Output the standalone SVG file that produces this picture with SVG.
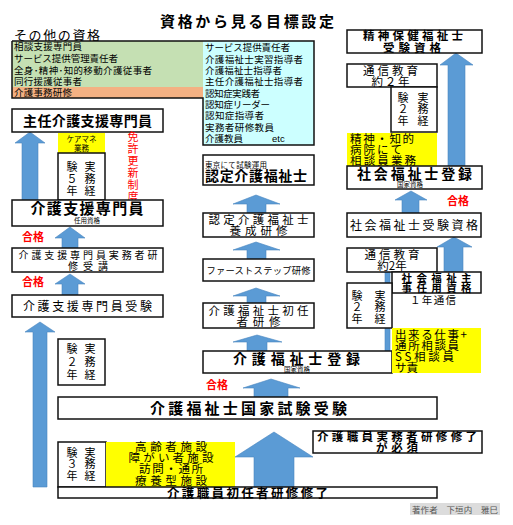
<svg xmlns="http://www.w3.org/2000/svg" width="513" height="525" viewBox="0 0 513 525">
<style>
text{font-family:"Noto Sans CJK JP","Noto Sans",sans-serif;fill:#000}
.b{font-weight:bold}
.box{fill:#fff;stroke:#111;stroke-width:1.5}
.yel{fill:#ffff00;stroke:none}
.red{fill:#ff0000;font-weight:bold;font-size:11px}
.arr{fill:#5b9bd5;stroke:#4a86bf;stroke-width:0.6}
.sm{font-size:9.5px}
.m{text-anchor:middle}
.v{writing-mode:vertical-rl;font-size:11px}
.t7{font-size:6.5px;font-weight:normal}
</style>
<rect width="513" height="525" fill="#fff"/>
<text x="160" y="27" class="b" font-size="15" textLength="174">資格から見る目標設定</text>

<g id="other-quals">
<text x="14" y="40" font-size="13" textLength="86">その他の資格</text>
<rect x="12" y="41" width="191" height="46" fill="#c5e0b3"/>
<rect x="12" y="87" width="191" height="11" fill="#f4b183"/>
<rect x="203" y="41" width="111" height="104" fill="#ccffff"/>
<polyline points="12,41 314,41 314,145 203,145 203,98 12,98 12,41" fill="none" stroke="#111" stroke-width="1.5"/>
<text class="sm"><tspan x="14" y="49.5" textLength="68">相談支援専門員</tspan><tspan x="14" y="61.5" textLength="104">サービス提供管理責任者</tspan><tspan x="14" y="73.5" textLength="138">全身･精神･知的移動介護従事者</tspan><tspan x="14" y="84.5" textLength="68">同行援護従事者</tspan><tspan x="14" y="96" textLength="58">介護事務研修</tspan></text>
<text class="sm"><tspan x="205" y="50.5" textLength="85">サービス提供責任者</tspan><tspan x="205" y="62.5" textLength="98">介護福祉士実習指導者</tspan><tspan x="205" y="73.5" textLength="77">介護福祉士指導者</tspan><tspan x="205" y="84.5" textLength="98">主任介護福祉士指導者</tspan><tspan x="205" y="96.5" textLength="55">認知症実践者</tspan><tspan x="205" y="107.5" textLength="65">認知症リーダー</tspan><tspan x="205" y="118.5" textLength="59">認知症指導者</tspan><tspan x="205" y="130.5" textLength="69">実務者研修教員</tspan><tspan x="205" y="142" textLength="38">介護教員</tspan><tspan x="272" y="142" font-family="Liberation Sans,sans-serif">etc</tspan></text>
</g>

<g id="connectors">
<polygon class="arr" points="30,132 45,143 38,143 38,200 22,200 22,143 15,143"/>
<polygon class="arr" points="70,227 85,238 78,238 78,248 62,248 62,238 55,238"/>
<polygon class="arr" points="70,274 85,284 78,284 78,295 62,295 62,284 55,284"/>
<polygon class="arr" points="40,322 55,332 47,332 47,487 33,487 33,332 25,332"/>
<polygon class="arr" points="256,195 280,204 266,204 266,213 247,213 247,204 233,204"/>
<polygon class="arr" points="256,242 280,250 266,250 266,259 247,259 247,250 233,250"/>
<polygon class="arr" points="256,288 280,296 266,296 266,303 247,303 247,296 233,296"/>
<polygon class="arr" points="257,335 282,342 267,342 267,351 247,351 247,342 233,342"/>
<polygon class="arr" points="271,379 300,388 288,388 288,397 254,397 254,388 243,388"/>
<polygon class="arr" points="274,432 313,457 294,457 294,487 254,487 254,457 235,457"/>
<polygon class="arr" points="456,53 473,65 465,65 465,166 448,166 448,65 440,65"/>
<polygon class="arr" points="411,191 427,200 419,200 419,213 402,213 402,200 395,200"/>
<polygon class="arr" points="454,237 472,247 463,247 463,272 444,272 444,247 437,247"/>
<polygon class="arr" points="387.5,265 394,272 390,272 390,351 385,351 385,272 381,272"/>
</g>

<g id="shunin-cm">
<rect class="box" x="12" y="109" width="151" height="23"/>
<text x="87.5" y="126" class="b m" font-size="14" textLength="129">主任介護支援専門員</text>
</g>
<g id="caremane">
<rect class="yel" x="58" y="133" width="47" height="20"/>
<text class="m" font-size="7.5"><tspan x="81.5" y="142">ケアマネ</tspan><tspan x="81.5" y="151">業務</tspan></text>
</g>
<g id="exp5">
<rect class="box" x="58" y="153" width="47" height="47"/>
<text class="v" x="90" y="161.5" letter-spacing="1">実務経</text>
<text class="v" x="72" y="161.5" letter-spacing="1">験５年</text>
</g>
<g id="renewal">
<text class="v" x="133" y="131.5" letter-spacing="1" style="fill:#ff0000">免許更新制度</text>
</g>
<g id="cm">
<rect class="box" x="12" y="200" width="151" height="26"/>
<text class="b m" font-size="15"><tspan x="87" y="214" textLength="113">介護支援専門員</tspan><tspan x="87" y="223" class="t7">任用資格</tspan></text>
</g>
<text x="22" y="241" class="red">合格</text>
<g id="cm-training">
<rect class="box" x="12" y="248" width="151" height="24"/>
<text class="m" font-size="10"><tspan x="88" y="258.5" textLength="139">介護支援専門員実務者研</tspan><tspan x="88" y="269.5" textLength="40">修受講</tspan></text>
</g>
<text x="22" y="286" class="red">合格</text>
<g id="cm-exam">
<rect class="box" x="12" y="295" width="151" height="22"/>
<text x="87.5" y="310.5" class="m" font-size="12" textLength="129">介護支援専門員受験</text>
</g>
<g id="exp2-left">
<rect class="box" x="58" y="339" width="47" height="46"/>
<text class="v" x="90" y="343.5" letter-spacing="2">実務経</text>
<text class="v" x="72" y="343.5" letter-spacing="2">験２年</text>
</g>

<g id="nintei">
<rect class="box" x="203" y="155" width="111" height="30"/>
<text><tspan x="205" y="167.5" font-size="7.5" textLength="62">東京にて試験運用</tspan><tspan x="205" y="181" class="b" font-size="14" textLength="102">認定介護福祉士</tspan></text>
</g>
<g id="nintei-training">
<rect class="box" x="203" y="213" width="111" height="24"/>
<text class="m" font-size="11.5"><tspan x="258.5" y="223.5" textLength="100">認定介護福祉士</tspan><tspan x="258.5" y="235" textLength="58">養成研修</tspan></text>
</g>
<g id="first-step">
<rect class="box" x="203" y="259" width="111" height="22"/>
<text x="258.5" y="273.5" class="m" font-size="9.3" textLength="104">ファーストステップ研修</text>
</g>
<g id="kaigo-shonin">
<rect class="box" x="203" y="303" width="111" height="25"/>
<text class="m" font-size="11.5"><tspan x="258.5" y="314.5" textLength="100">介護福祉士初任</tspan><tspan x="258.5" y="326" textLength="44">者研修</tspan></text>
</g>
<g id="kaigo-register">
<rect class="box" x="203" y="351" width="189" height="22"/>
<text class="b m" font-size="14"><tspan x="296.5" y="364" textLength="127">介護福祉士登録</tspan><tspan x="297" y="372" class="t7">国家資格</tspan></text>
</g>
<text x="206" y="389" class="red">合格</text>
<g id="kaigo-exam">
<rect class="box" x="58" y="397" width="379" height="22"/>
<text x="248.5" y="414" class="b m" font-size="15" textLength="197">介護福祉士国家試験受験</text>
</g>
<g id="exp3">
<rect class="box" x="58" y="442" width="48" height="45"/>
<text class="v" x="90" y="447" letter-spacing="0.5">実務経</text>
<text class="v" x="72" y="447" letter-spacing="0.5">験３年</text>
</g>
<g id="facilities">
<rect class="yel" x="106" y="442" width="129" height="45"/>
<text class="m" font-size="11.5"><tspan x="171" y="450.5" textLength="72">高齢者施設</tspan><tspan x="171" y="461.5" textLength="85">障がい者施設</tspan><tspan x="171" y="473" textLength="64">訪問・通所</tspan><tspan x="171" y="485" textLength="72">療養型施設</tspan></text>
</g>
<g id="jitsumu-required">
<rect class="box" x="313" y="431" width="169" height="22"/>
<text class="b m" font-size="11.5"><tspan x="397" y="441" textLength="160">介護職員実務者研修修了</tspan><tspan x="397" y="452" textLength="42">が必須</tspan></text>
</g>
<g id="shonin-done">
<rect class="box" x="58" y="487" width="379" height="11"/>
<text x="247.5" y="497.5" class="b m" font-size="12.5" textLength="161">介護職員初任者研修修了</text>
</g>

<g id="seishin-exam">
<rect class="box" x="347" y="30" width="135" height="23"/>
<text class="b m" font-size="11.5"><tspan x="413" y="40" textLength="100">精神保健福祉士</tspan><tspan x="412" y="51.5" textLength="58">受験資格</tspan></text>
</g>
<g id="tsushin-top">
<rect class="box" x="347" y="64" width="90" height="23"/>
<text class="m" font-size="11.5"><tspan x="390.5" y="75" textLength="55">通信教育</tspan><tspan x="390.5" y="86" textLength="38">約２年</tspan></text>
</g>
<g id="exp2-top">
<rect class="box" x="391" y="87" width="46" height="45"/>
<text class="v" x="423" y="92" letter-spacing="0.5">実務経</text>
<text class="v" x="403" y="92" letter-spacing="0.5">験２年</text>
</g>
<g id="seishin-work">
<rect class="yel" x="347" y="133" width="90" height="33"/>
<text font-size="11.5"><tspan x="350" y="142.5" textLength="64">精神・知的</tspan><tspan x="350" y="153.5" textLength="52">病院にて</tspan><tspan x="350" y="164.5" textLength="66">相談員業務</tspan></text>
</g>
<g id="shakai-register">
<rect class="box" x="347" y="166" width="135" height="23"/>
<text class="b m" font-size="14"><tspan x="414.5" y="178.5" textLength="115">社会福祉士登録</tspan><tspan x="410" y="187" class="t7">国家資格</tspan></text>
</g>
<text x="447" y="205" class="red">合格</text>
<g id="shakai-exam">
<rect class="box" x="347" y="213" width="134" height="24"/>
<text x="414" y="229.5" class="m" font-size="12" textLength="128">社会福祉士受験資格</text>
</g>
<g id="tsushin-mid">
<rect class="box" x="347" y="248" width="90" height="24"/>
<text class="m" font-size="11.5"><tspan x="392" y="259" textLength="55">通信教育</tspan><tspan x="392" y="270">約2年</tspan></text>
</g>
<g id="shuji">
<rect class="box" x="392" y="272" width="89" height="21"/>
<text class="m" font-size="10.5"><tspan x="436.5" y="282" class="b" textLength="70">社会福祉主</tspan><tspan x="436.5" y="292" class="b" textLength="70">事任用資格</tspan><tspan x="433" y="304" textLength="46">１年通信</tspan></text>
</g>
<g id="exp2-right">
<rect class="box" x="347" y="283" width="45" height="45"/>
<text class="v" x="380" y="290" letter-spacing="0.5">実務経</text>
<text class="v" x="357" y="290" letter-spacing="0.5">験２年</text>
</g>
<g id="can-do">
<rect class="yel" x="392" y="328" width="89" height="45"/>
<text font-size="11.5"><tspan x="395" y="339" textLength="72">出来る仕事+</tspan><tspan x="395" y="350" textLength="64">通所相談員</tspan><tspan x="395" y="361" textLength="59">SS相談員</tspan><tspan x="395" y="372">サ責</tspan></text>
</g>
<g id="credit">
<rect x="410" y="503" width="90" height="12" fill="#dcdcdc"/>
<text x="412" y="512.5" font-size="8.5" style="fill:#555" textLength="86">著作者　下垣内　雅巳</text>
</g>
</svg>
